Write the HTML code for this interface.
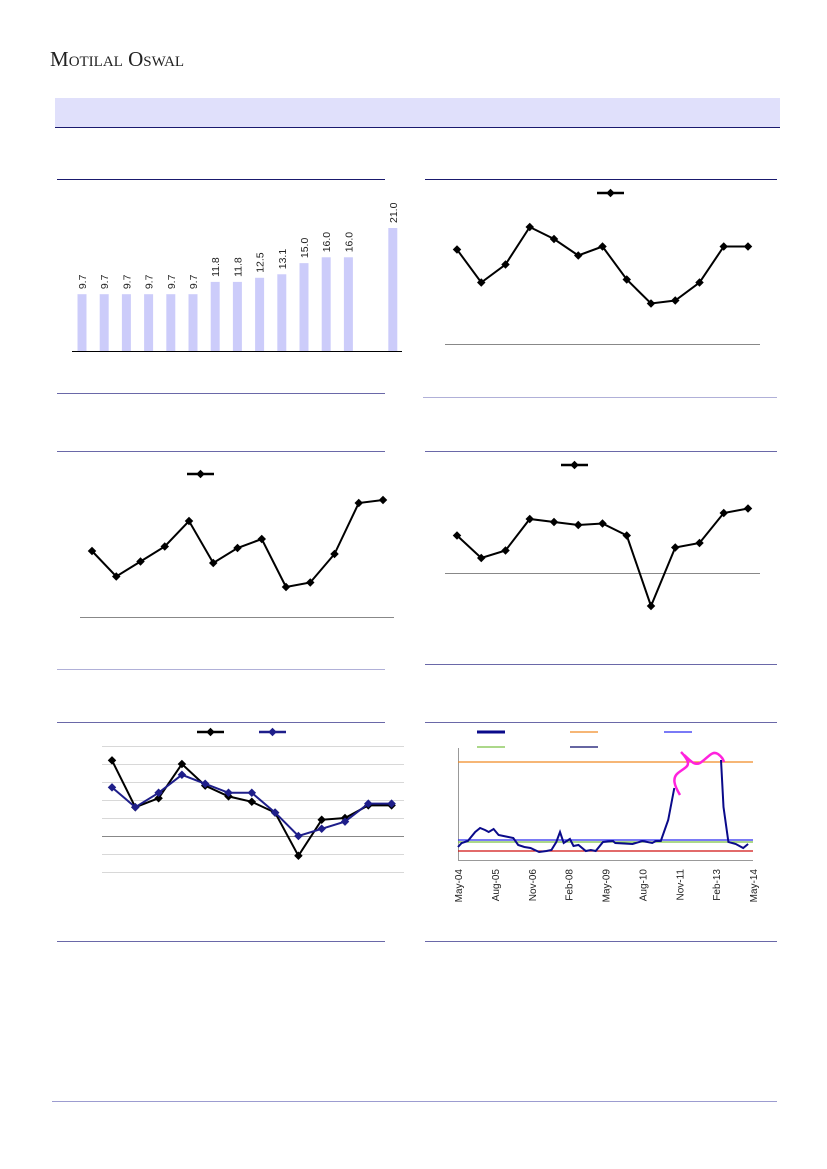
<!DOCTYPE html>
<html><head><meta charset="utf-8"><style>
body{margin:0;background:#fff;}
svg{display:block;font-family:"Liberation Sans",sans-serif;}
</style></head><body>
<svg id="page" width="827" height="1169" viewBox="0 0 827 1169" xmlns="http://www.w3.org/2000/svg">
<text x="50" y="66" font-family="Liberation Serif,serif" font-size="21" fill="#222">M<tspan font-size="15">OTILAL</tspan> O<tspan font-size="15">SWAL</tspan></text>
<rect x="55" y="98" width="725" height="29" fill="#e0e0fb"/>
<line x1="55" y1="127.5" x2="780" y2="127.5" stroke="#1a1a6e"/>
<g stroke="#6a68a8" stroke-width="1">
<line x1="57" y1="179.5" x2="385" y2="179.5" stroke="#1a1a6e"/><line x1="425" y1="179.5" x2="777" y2="179.5" stroke="#1a1a6e"/>
<line x1="57" y1="393.5" x2="385" y2="393.5"/><line x1="423" y1="397.5" x2="777" y2="397.5" stroke="#b0b0d8"/>
<line x1="57" y1="451.5" x2="385" y2="451.5"/><line x1="425" y1="451.5" x2="777" y2="451.5"/>
<line x1="57" y1="669.5" x2="385" y2="669.5" stroke="#b0b0d8"/><line x1="425" y1="664.5" x2="777" y2="664.5"/>
<line x1="57" y1="722.5" x2="385" y2="722.5"/><line x1="425" y1="722.5" x2="777" y2="722.5"/>
<line x1="57" y1="941.5" x2="385" y2="941.5"/><line x1="425" y1="941.5" x2="777" y2="941.5"/>
<line x1="52" y1="1101.5" x2="777" y2="1101.5" stroke="#9c9cd0"/>
</g>
<g id="c1"></g><g id="c2"></g><g id="c3"></g><g id="c4"></g><g id="c5"></g><g id="c6"></g>
</svg>
<script>
const NS="http://www.w3.org/2000/svg";
function mk(p,t,a){const e=document.createElementNS(NS,t);for(const k in a)e.setAttribute(k,a[k]);p.appendChild(e);return e;}

// Chart 1 data
const barCats=["c1","c2","c3","c4","c5","c6","c7","c8","c9","c10","c11","c12","c13","c14","c15"];
const barVals=[9.7,9.7,9.7,9.7,9.7,9.7,11.8,11.8,12.5,13.1,15.0,16.0,16.0,null,21.0];
const barLabels=["9.7","9.7","9.7","9.7","9.7","9.7","11.8","11.8","12.5","13.1","15.0","16.0","16.0","","21.0"];
// Chart 2 data
const c2Vals=[63,41,53,78,70,59,65,43,27,29,41,65,65];
// Chart 3 data
const c3Vals=[44,27,37,47,64,36,46,52,20,23,42,76,78];
// Chart 4 data
const c4Vals=[25,10,15,36,34,32,33,25,-22,17,20,40,43];
// Chart 5 data
const c5SeriesA=[4.2,1.6,2.1,4.0,2.8,2.2,1.9,1.3,-1.1,0.9,1.0,1.7,1.7];
const c5SeriesB=[2.7,1.6,2.4,3.4,2.9,2.4,2.4,1.3,0.0,0.4,0.8,1.8,1.8];
const c5Ticks=[-2,-1,0,1,2,3,4,5];
// Chart 6 data (null = off-scale gap)
const c6Months=[0,1.5,4,7,9,11,12.5,14.5,16.5,18.5,20.5,22.5,24.5,27,29.5,33,36,38,40,41.5,43,45.5,47,49,52,54,56,59,63,64,71,75,79,80.5,82.5,85.5,88,97,107,108,110,113,116,118];
const c6Vals=[13,17,19,28,32,30,28,31,25,24,23,22,15,13,12,8,9,10,18,28,17,21,14,15,9,10,9,18,19,17,16,19,17,19,19,40,72,null,100,53,18,12,16,null].slice(0,44);
c6Vals[43]=16;c6Vals[42]=12;c6Vals[41]=16;c6Vals[40]=18;
const c6XLabels=["May-04","Aug-05","Nov-06","Feb-08","May-09","Aug-10","Nov-11","Feb-13","May-14"];
const c6Refs=[{v:98,c:"#f08a24"},{v:20,c:"#2b2bf0"},{v:18,c:"#7ac143"},{v:9,c:"#d01010"}];

function lineChart(g,vals,x0,dx,yOf,color,name){
  let d="";vals.forEach((v,i)=>{d+=(i?"L":"M")+(x0+i*dx)+","+yOf(v);});
  const p=mk(g,"path",{d:d,fill:"none",stroke:color,"stroke-width":2});
  
  
  vals.forEach((v,i)=>{const c=mk(g,"rect",{x:x0+i*dx-3,y:yOf(v)-3,width:6,height:6,fill:color,transform:`rotate(45 ${x0+i*dx} ${yOf(v)})`});
    
    });
}
function legend(g,x,y,color,name){
  const l=mk(g,"line",{x1:x,y1:y,x2:x+27,y2:y,stroke:color,"stroke-width":2.5});
  
  
  mk(g,"rect",{x:x+10.5,y:y-3,width:6,height:6,fill:color,transform:`rotate(45 ${x+13.5} ${y})`});
}

// Chart 1
(function(){const g=document.getElementById("c1");
 
 const y=v=>351-v*5.857, x=i=>82+i*22.2;
 barVals.forEach((v,i)=>{if(v==null)return;
  const r=mk(g,"rect",{x:x(i)-4.5,y:y(v),width:9,height:351-y(v),fill:"#ccccfa"});
  
  
  const t=mk(g,"text",{x:0,y:0,transform:`translate(${x(i)+4},${y(v)-5}) rotate(-90)`,"font-size":10.5,fill:"#222"});
  t.textContent=barLabels[i];
  
  });
 const a=mk(g,"line",{x1:72,y1:351.5,x2:402,y2:351.5,stroke:"#000"});
 
})();
// Chart 2
(function(){const g=document.getElementById("c2");
 
 const a=mk(g,"line",{x1:445,y1:344.5,x2:760,y2:344.5,stroke:"#888"});
 
 legend(g,597,193,"#000","legend-entry");
 lineChart(g,c2Vals,457,24.25,v=>344-v*1.5,"#000","series");
})();
// Chart 3
(function(){const g=document.getElementById("c3");
 
 const a=mk(g,"line",{x1:80,y1:617.5,x2:394,y2:617.5,stroke:"#888"});
 
 legend(g,187,474,"#000","legend-entry");
 lineChart(g,c3Vals,92,24.25,v=>617-v*1.5,"#000","series");
})();
// Chart 4
(function(){const g=document.getElementById("c4");
 
 const a=mk(g,"line",{x1:445,y1:573.5,x2:760,y2:573.5,stroke:"#888"});
 
 legend(g,561,465,"#000","legend-entry");
 lineChart(g,c4Vals,457,24.25,v=>573-v*1.5,"#000","series");
})();
// Chart 5
(function(){const g=document.getElementById("c5");
 
 const y=v=>836-v*18;
 c5Ticks.forEach(t=>{const l=mk(g,"line",{x1:102,y1:y(t)+0.5,x2:404,y2:y(t)+0.5,stroke:t===0?"#888":"#d8d8d8"});
  });
 legend(g,197,732,"#000","legend-entry-a");
 legend(g,259,732,"#1e1e8a","legend-entry-b");
 lineChart(g,c5SeriesA,112,23.3,y,"#000","series-a");
 lineChart(g,c5SeriesB,112,23.3,y,"#1e1e8a","series-b");
})();
// Chart 6
(function(){const g=document.getElementById("c6");
 
 const x=m=>458+m*295/120, y=v=>860-v;
 const ax=mk(g,"path",{d:"M458.5,748 V860.5 H753",fill:"none",stroke:"#999"});
 
 c6Refs.forEach(r=>{const l=mk(g,"line",{x1:458,y1:y(r.v),x2:753,y2:y(r.v),stroke:r.c,"stroke-width":1.2});
  });
 let d="",pen=false;c6Months.forEach((m,i)=>{const v=c6Vals[i];if(v==null){pen=false;return;}d+=(pen?"L":"M")+x(m).toFixed(1)+","+y(v);pen=true;});
 const p=mk(g,"path",{d:d,fill:"none",stroke:"#0a0a8a","stroke-width":2});
 
 const pk=mk(g,"path",{d:"M680,795 C674,785 672,778 678,773 C686,767 690,766 687,760 C685,756 683,754 681,752 M684,755 C690,760 694,766 700,763 C708,758 712,750 718,754 C722,757 723,759 724,762",fill:"none",stroke:"#ff22dd","stroke-width":2.5});
 
 [[477,732,"#0a0a8a",3],[570,732,"#f08a24",1.2],[664,732,"#2b2bf0",1.2],[477,747,"#7ac143",1.2],[570,747,"#0a0a6a",1.2]].forEach(e=>{
  const l=mk(g,"line",{x1:e[0],y1:e[1],x2:e[0]+28,y2:e[1],stroke:e[2],"stroke-width":e[3]});
  });
 c6XLabels.forEach((s,i)=>{const xx=x(i*15);
  const t=mk(g,"text",{x:0,y:0,transform:`translate(${xx+4},${869}) rotate(-90)`,"font-size":10,fill:"#222","text-anchor":"end"});
  t.textContent=s;});
})();
</script>
</body></html>
